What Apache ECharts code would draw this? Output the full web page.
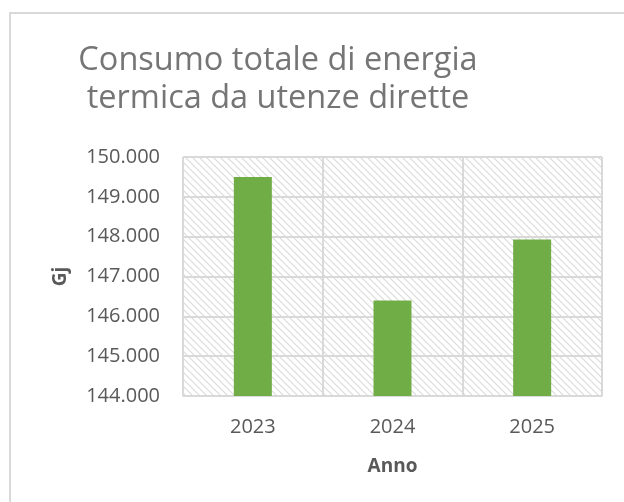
<!DOCTYPE html>
<html>
<head>
<meta charset="utf-8">
<script src="https://cdn.jsdelivr.net/npm/echarts@6/dist/echarts.min.js"></script>
<style>
  html, body { margin: 0; padding: 0; background: #fff; }
  #chart { width: 624px; height: 502px; }
</style>
</head>
<body>
<div id="chart"></div>
<script>
// dati
var anni = ['2023', '2024', '2025'];
var consumoGj = [149500, 146400, 147930];
var yMin = 144000, yMax = 150000, yStep = 1000;

var titolo = 'Consumo totale di energia\ntermica da utenze dirette';

// trama a righe diagonali per lo sfondo dell'area del grafico
function makeHatch() {
    var c = document.createElement('canvas');
    c.width = 7; c.height = 7;
    var ctx = c.getContext('2d');
    ctx.fillStyle = '#ffffff';
    ctx.fillRect(0, 0, 7, 7);
    ctx.strokeStyle = '#dadada';
    ctx.lineWidth = 1.1;
    ctx.beginPath();
    ctx.moveTo(-1, -1); ctx.lineTo(8, 8);
    ctx.moveTo(-1, 6); ctx.lineTo(1, 8);
    ctx.moveTo(6, -1); ctx.lineTo(8, 1);
    ctx.stroke();
    return c;
}

function fmt(v) {
    return String(v).replace(/\B(?=(\d{3})+(?!\d))/g, '.');
}

var mychart = echarts.init(document.getElementById('chart'));
var option = {
    backgroundColor: '#ffffff',
    animation: false,
    title: {
        text: titolo,
        left: 273,
        top: 37,
        textAlign: 'center',
        textStyle: {
            color: '#757575',
            fontFamily: 'Open Sans',
            fontWeight: 'normal',
            fontSize: 32.5,
            lineHeight: 38
        }
    },
    graphic: [
        {
            type: 'rect',
            shape: { x: 10, y: 13, width: 700, height: 600 },
            style: { fill: 'none', stroke: '#d9d9d9', lineWidth: 2 },
            silent: true
        }
    ],
    grid: {
        left: 183,
        top: 157,
        right: 22,
        bottom: 106,
        show: true,
        backgroundColor: { image: makeHatch(), repeat: 'repeat' },
        borderColor: '#d9d9d9',
        borderWidth: 1
    },
    xAxis: {
        type: 'category',
        data: anni,
        name: 'Anno',
        nameLocation: 'middle',
        nameGap: 61,
        nameTextStyle: {
            color: '#595959',
            fontFamily: 'Open Sans',
            fontWeight: 'bold',
            fontSize: 19
        },
        axisLine: { show: true, lineStyle: { color: '#d9d9d9', width: 1 } },
        axisTick: { show: false },
        axisLabel: {
            color: '#595959',
            fontFamily: 'Open Sans',
            fontSize: 20,
            margin: 21
        },
        splitLine: { show: true, lineStyle: { color: '#d9d9d9', width: 2 } }
    },
    yAxis: {
        type: 'value',
        min: yMin,
        max: yMax,
        interval: yStep,
        name: 'Gj',
        nameLocation: 'middle',
        nameGap: 113,
        nameRotate: 90,
        nameTextStyle: {
            color: '#595959',
            fontFamily: 'Open Sans',
            fontWeight: 'bold',
            fontSize: 19
        },
        axisLine: { show: false },
        axisTick: { show: false },
        axisLabel: {
            color: '#595959',
            fontFamily: 'Open Sans',
            fontSize: 20,
            margin: 23,
            formatter: fmt
        },
        splitLine: { show: true, lineStyle: { color: '#d9d9d9', width: 2 } }
    },
    series: [
        {
            name: 'Consumo',
            type: 'bar',
            barWidth: 38,
            itemStyle: { color: '#70ad47' },
            data: consumoGj
        }
    ]
};
mychart.setOption(option);
window.addEventListener('resize', function () {
    mychart.resize();
});
</script>
</body>
</html>
